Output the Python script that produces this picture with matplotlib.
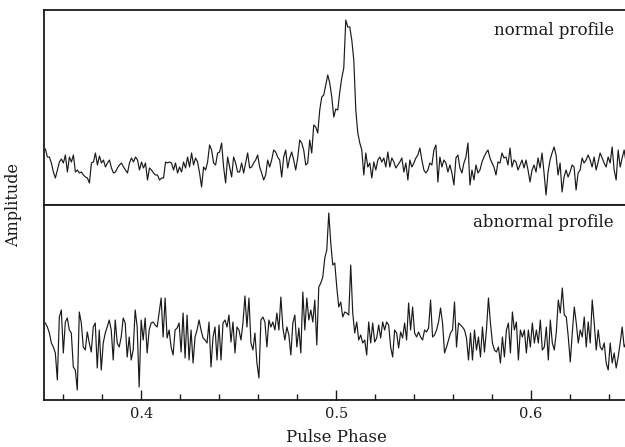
import numpy as np
import matplotlib
matplotlib.use("Agg")
import matplotlib.pyplot as plt

# Amplitudes (arbitrary units), phase bins evenly spaced
normal_profile = [
    56, 48, 48, 42, 33, 27, 35, 43, 46, 42, 50, 33, 48, 43, 50, 33, 35, 32, 33, 30,
    28, 27, 22, 42, 43, 52, 40, 49, 42, 45, 38, 42, 45, 37, 32, 33, 37, 40, 42, 38,
    35, 32, 42, 47, 43, 48, 45, 35, 43, 37, 42, 25, 37, 35, 32, 30, 30, 25, 27,
    27, 43, 42, 43, 42, 35, 42, 32, 38, 33, 43, 37, 48, 38, 52, 40, 47, 43, 32, 18,
    38, 35, 43, 60, 55, 42, 40, 52, 53, 62, 38, 22, 48, 38, 28, 48, 42, 33, 33, 42,
    32, 42, 52, 37, 38, 42, 45, 50, 38, 32, 25, 30, 45, 38, 45, 55,
    53, 48, 45, 28, 48, 55, 37, 47, 53, 45, 35, 47, 65, 62, 55, 40, 42, 65, 52, 80,
    78, 72, 95, 108, 110, 120, 130, 122, 108, 88, 96, 95, 113, 127, 137, 185, 178, 178, 165, 145,
    95, 72, 62, 55, 30, 52, 38, 42, 27, 43, 35, 45, 48, 43, 47, 38, 53, 38,
    47, 43, 37, 40, 43, 47, 33, 42, 25, 45, 38, 42, 47, 50, 57, 45, 35, 32, 35, 42,
    40, 55, 60, 23, 48, 38, 45, 42, 33, 40, 32, 20, 47, 50, 37, 32, 42, 48, 62, 20,
    35, 25, 40, 32, 35, 43, 48, 52, 55, 47, 42, 38, 30, 43, 42, 52, 47,
    48, 40, 57, 38, 45, 43, 35, 40, 45, 37, 45, 35, 23, 35, 40, 33, 47, 37, 52, 32,
    10, 33, 45, 52, 58, 50, 30, 42, 13, 28, 35, 28, 33, 40, 38, 15, 32, 35, 47, 42,
    45, 50, 45, 38, 48, 35, 43, 52, 47, 42, 38, 48, 42, 58, 35, 25, 55, 38, 47, 55,
    42,
]

abnormal_profile = [
    78, 74, 68, 58, 54, 48, 21, 84, 91, 48, 79, 83, 71, 68, 34, 31, 11, 89, 78, 54,
    51, 69, 58, 49, 74, 78, 33, 71, 31, 58, 68, 74, 81, 71, 41, 81, 58, 54, 64, 83,
    78, 44, 64, 41, 51, 91, 74, 14, 81, 61, 83, 48, 71, 78, 79, 76, 74, 88, 103, 64,
    103, 63, 71, 54, 46, 71, 73, 78, 49, 88, 43, 86, 41, 71, 38, 64, 71, 81, 71, 63,
    61, 58, 79, 34, 64, 74, 41, 76, 41, 78, 81, 74, 86, 59, 79, 48, 74, 71, 61, 78,
    105, 74, 103, 58, 51, 68, 38, 23, 81, 84, 79, 54, 81, 74, 79, 71, 88,
    71, 104, 73, 61, 74, 66, 46, 78, 86, 54, 73, 48, 109, 71, 103, 81, 91, 79, 101, 56,
    114, 118, 124, 143, 151, 188, 158, 136, 138, 114, 94, 99, 84, 89, 88, 86, 136, 88, 68, 79,
    61, 66, 58, 61, 46, 79, 58, 78, 59, 63, 76, 63, 79, 71, 79, 76, 54,
    44, 71, 68, 53, 69, 63, 78, 61, 98, 71, 94, 68, 64, 69, 64, 61, 71, 69, 73, 101,
    64, 66, 71, 79, 93, 78, 48, 54, 61, 68, 71, 99, 54, 78, 76, 74, 71, 63, 41, 68,
    41, 71, 51, 64, 44, 74, 49, 71, 103, 78, 58, 51, 49, 54, 38, 64, 44,
    71, 78, 48, 89, 71, 79, 41, 71, 64, 71, 48, 71, 54, 78, 58, 71, 58, 81, 51, 54,
    74, 41, 81, 58, 51, 69, 101, 88, 113, 86, 84, 64, 39, 68, 94, 78, 58, 71, 64, 84,
    54, 79, 58, 101, 78, 51, 71, 54, 51, 58, 38, 31, 58, 38, 48, 33, 44, 58, 74, 54,
    58,
]

panel_labels = ["normal profile", "abnormal profile"]
phase_start, phase_end = 0.3507, 0.6488
xlim = (0.35, 0.65)
major_ticks = [0.4, 0.5, 0.6]
minor_ticks = [0.36, 0.38, 0.42, 0.44, 0.46, 0.48, 0.52, 0.54, 0.56, 0.58, 0.62, 0.64]

plt.rcParams['font.family'] = ['DejaVu Serif']

W, H = 625, 447
fig = plt.figure(figsize=(W / 100, H / 100), dpi=100)

ax_left = 44 / W
ax_width = (628.5 - 44) / W
top_ax = fig.add_axes([ax_left, (H - 205) / H, ax_width, 195 / H])
bot_ax = fig.add_axes([ax_left, (H - 400) / H, ax_width, 195 / H])

ink = "#1a1a1a"
for ax, vals, lab, ylim, ty in [(top_ax, normal_profile, panel_labels[0], (0, 195), 0.897),
                                (bot_ax, abnormal_profile, panel_labels[1], (1, 196), 0.91)]:
    x = np.linspace(phase_start, phase_end, len(vals))
    ax.plot(x, vals, color=ink, lw=0.85)
    ax.set_xlim(*xlim)
    ax.set_ylim(*ylim)
    ax.set_yticks([])
    for s in ax.spines.values():
        s.set_linewidth(1.3)
        s.set_color(ink)
    ax.text((614 - 44) / (628.5 - 44), ty, lab, transform=ax.transAxes, ha='right',
            va='center', fontsize=12, color=ink)

top_ax.set_xticks([])
top_ax.tick_params(which='both', bottom=False, top=False, labelbottom=False)

bot_ax.set_xticks(major_ticks)
bot_ax.set_xticklabels([f"{t:.1f}" for t in major_ticks])
bot_ax.set_xticks(minor_ticks, minor=True)
bot_ax.tick_params(which='both', direction='in', top=False, colors=ink, labelsize=10.5, pad=5)
bot_ax.tick_params(which='major', length=7, width=1)
bot_ax.tick_params(which='minor', length=4.5, width=1)

fig.text(336 / W, (H - 438) / H, "Pulse Phase", ha='center', va='center', fontsize=12, color=ink)
fig.text(14 / W, (H - 205) / H, "Amplitude", ha='center', va='center', rotation=90,
         fontsize=11.5, color=ink)

fig.savefig("out.png", dpi=100)
